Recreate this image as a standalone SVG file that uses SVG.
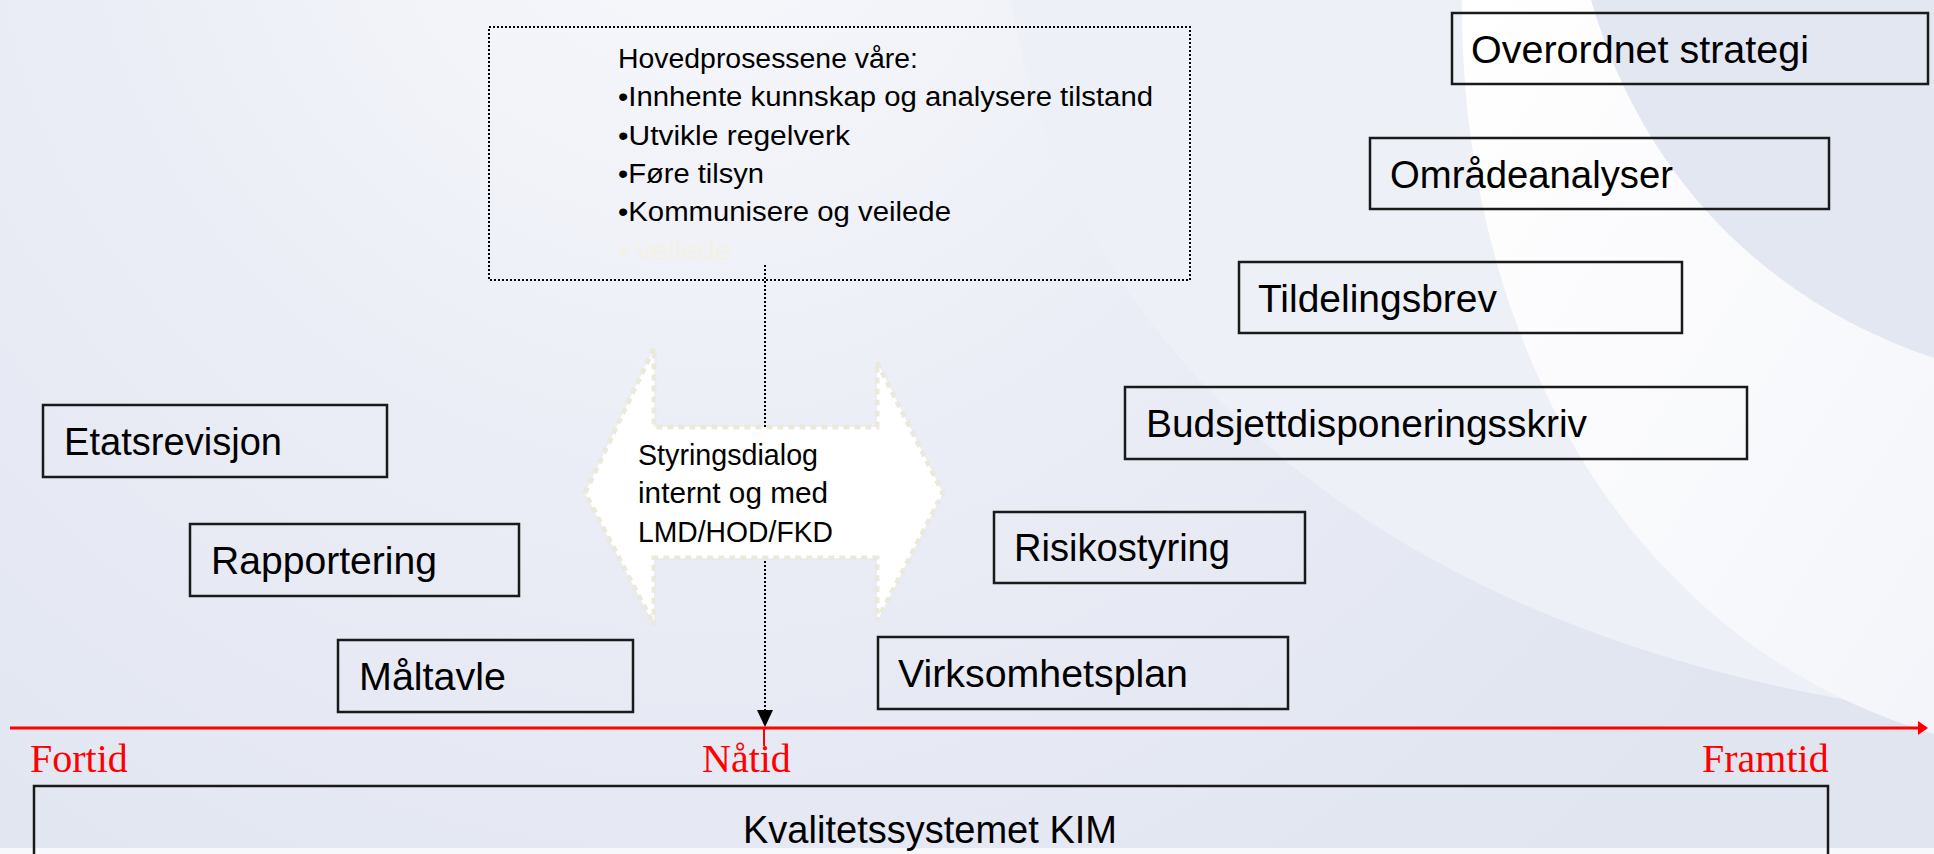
<svg xmlns="http://www.w3.org/2000/svg" width="1934" height="854" viewBox="0 0 1934 854">
<defs>
<radialGradient id="bg" cx="700" cy="-150" r="1300" gradientUnits="userSpaceOnUse">
<stop offset="0" stop-color="#f8f9fc"/>
<stop offset="0.55" stop-color="#e9ecf5"/>
<stop offset="1" stop-color="#e1e5f0"/>
</radialGradient>
<linearGradient id="whiteArea" x1="0" y1="0" x2="1" y2="1">
<stop offset="0" stop-color="#ffffff"/>
<stop offset="1" stop-color="#f4f5fa"/>
</linearGradient>
<marker id="redArrow" markerWidth="10" markerHeight="14" refX="8" refY="7" orient="auto" markerUnits="userSpaceOnUse">
<path d="M0,0 L10,7 L0,14 Z" fill="#ff0000"/>
</marker>
<style>
.box{fill:none;stroke:#1a1a1a;stroke-width:2.5}
.lbl{font-family:"Liberation Sans",Arial,sans-serif;font-size:38px;fill:#000}
.small{font-family:"Liberation Sans",Arial,sans-serif;font-size:27px;fill:#000}
.arrowtxt{font-family:"Liberation Sans",Arial,sans-serif;font-size:29px;fill:#000}
.time{font-family:"Liberation Serif","Times New Roman",serif;font-size:40px;fill:#ff0000}
.dotted{fill:none;stroke:#000;stroke-width:2;stroke-dasharray:2 2}
</style>
</defs>

<g id="background">
<rect x="0" y="0" width="1934" height="854" fill="url(#bg)"/>
<path d="M1011,0 C1060,320 1350,640 1934,713 L1934,0 Z" fill="#eef0f7"/>
<path d="M1462,0 C1460,330 1620,640 1934,734 L1934,0 Z" fill="url(#whiteArea)"/>
<path d="M1591,0 C1640,170 1760,300 1934,358 L1934,0 Z" fill="#e3e7f2"/>
<rect x="0" y="848" width="1934" height="6" fill="#f7f8fb"/>
</g>

<g id="connectors">
<line x1="765" y1="265" x2="765" y2="710" class="dotted"/>
<path d="M757,710 L773,710 L765,727 Z" fill="#000"/>
<line x1="10" y1="728" x2="1926" y2="728" stroke="#ff0000" stroke-width="3" marker-end="url(#redArrow)"/>
<line x1="764" y1="728" x2="764" y2="746" stroke="#ff0000" stroke-width="2"/>
</g>

<g id="timeline-labels">
<text class="time" x="30" y="772">Fortid</text>
<text class="time" x="702" y="772">Nåtid</text>
<text class="time" x="1702" y="772">Framtid</text>
</g>

<g id="hovedprosesser">
<rect x="489" y="27" width="701" height="253" class="dotted"/>
<text class="small" x="618" y="68" textLength="300" lengthAdjust="spacingAndGlyphs">Hovedprosessene våre:</text>
<text class="small" x="618" y="106" textLength="535" lengthAdjust="spacingAndGlyphs">•Innhente kunnskap og analysere tilstand</text>
<text class="small" x="618" y="145" textLength="232" lengthAdjust="spacingAndGlyphs">•Utvikle regelverk</text>
<text class="small" x="618" y="183" textLength="146" lengthAdjust="spacingAndGlyphs">•Føre tilsyn</text>
<text class="small" x="618" y="221" textLength="333" lengthAdjust="spacingAndGlyphs">•Kommunisere og veilede</text>
<text class="small" x="618" y="260" textLength="114" lengthAdjust="spacingAndGlyphs" style="fill:#f3f1e4">• veilede</text>
</g>

<g id="styringsdialog">
<path d="M585,493 L654,348 L654,427 L877,427 L877,362 L943,493 L877,621 L877,558 L654,558 L654,625 Z" fill="#ffffff" stroke="#ebe9dc" stroke-width="5" stroke-dasharray="6 5"/>
<text class="arrowtxt" x="638" y="465" textLength="180" lengthAdjust="spacingAndGlyphs">Styringsdialog</text>
<text class="arrowtxt" x="638" y="503" textLength="190" lengthAdjust="spacingAndGlyphs">internt og med</text>
<text class="arrowtxt" x="638" y="542" textLength="195" lengthAdjust="spacingAndGlyphs">LMD/HOD/FKD</text>
</g>

<g id="overordnet-strategi">
<rect x="1452" y="13" width="476" height="71" class="box"/>
<text class="lbl" x="1471" y="63" textLength="338" lengthAdjust="spacingAndGlyphs">Overordnet strategi</text>
</g>
<g id="omradeanalyser">
<rect x="1370" y="138" width="459" height="71" class="box"/>
<text class="lbl" x="1390" y="188" textLength="283" lengthAdjust="spacingAndGlyphs">Områdeanalyser</text>
</g>
<g id="tildelingsbrev">
<rect x="1239" y="262" width="443" height="71" class="box"/>
<text class="lbl" x="1258" y="312" textLength="239" lengthAdjust="spacingAndGlyphs">Tildelingsbrev</text>
</g>
<g id="budsjett">
<rect x="1125" y="387" width="622" height="72" class="box"/>
<text class="lbl" x="1146" y="437" textLength="441" lengthAdjust="spacingAndGlyphs">Budsjettdisponeringsskriv</text>
</g>
<g id="risikostyring">
<rect x="994" y="512" width="311" height="71" class="box"/>
<text class="lbl" x="1014" y="561" textLength="216" lengthAdjust="spacingAndGlyphs">Risikostyring</text>
</g>
<g id="virksomhetsplan">
<rect x="878" y="637" width="410" height="72" class="box"/>
<text class="lbl" x="898" y="687" textLength="290" lengthAdjust="spacingAndGlyphs">Virksomhetsplan</text>
</g>
<g id="etatsrevisjon">
<rect x="43" y="405" width="344" height="72" class="box"/>
<text class="lbl" x="64" y="455" textLength="218" lengthAdjust="spacingAndGlyphs">Etatsrevisjon</text>
</g>
<g id="rapportering">
<rect x="190" y="524" width="329" height="72" class="box"/>
<text class="lbl" x="211" y="574" textLength="226" lengthAdjust="spacingAndGlyphs">Rapportering</text>
</g>
<g id="maltavle">
<rect x="338" y="640" width="295" height="72" class="box"/>
<text class="lbl" x="359" y="690" textLength="147" lengthAdjust="spacingAndGlyphs">Måltavle</text>
</g>
<g id="kvalitetssystemet">
<rect x="34" y="786" width="1794" height="90" class="box"/>
<text class="lbl" x="743" y="843" textLength="374" lengthAdjust="spacingAndGlyphs">Kvalitetssystemet KIM</text>
</g>
</svg>
